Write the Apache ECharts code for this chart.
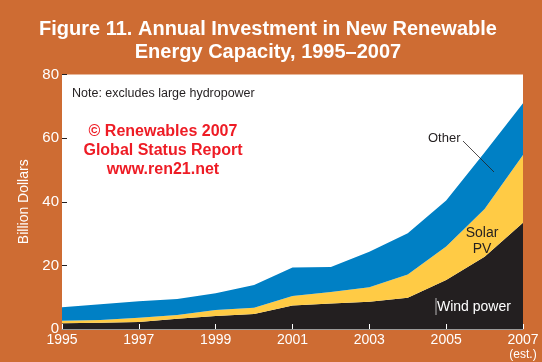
<!DOCTYPE html>
<html><head><meta charset="utf-8">
<script src="https://cdn.jsdelivr.net/npm/echarts@6/dist/echarts.min.js"></script>
<style>html,body{margin:0;padding:0;background:#CE6C33;}#c{width:542px;height:362px;}</style>
</head><body><div id="c"></div>
<script>
var years = ['1995','1996','1997','1998','1999','2000','2001','2002','2003','2004','2005','2006','2007'];
var windPower = [1.8, 2.0, 2.2, 3.2, 4.1, 4.7, 7.4, 8.0, 8.6, 9.8, 15.4, 22.7, 33.4];
var solarPV   = [0.8, 0.8, 1.3, 1.2, 1.9, 2.0, 3.0, 3.6, 4.5, 7.3, 10.5, 15.0, 21.3];
var other     = [4.2, 5.0, 5.2, 5.0, 5.2, 7.1, 8.9, 7.9, 11.2, 13.0, 14.5, 17.8, 16.3];
var yTicks = [0, 20, 40, 60, 80];

var chart = echarts.init(document.getElementById('c'), null, {renderer: 'canvas'});
var font = '"Liberation Sans", Arial, sans-serif';
function area(name, data, color) {
  return {
    name: name, type: 'line', stack: 'total', data: data,
    showSymbol: false, symbol: 'none', smooth: false,
    lineStyle: {width: 0, color: color}, itemStyle: {color: color},
    areaStyle: {color: color, opacity: 1}
  };
}
chart.setOption({
  backgroundColor: '#CE6C33',
  animation: false,
  grid: {left: 62, right: 19, top: 74.5, bottom: 33, show: true, backgroundColor: '#fff', borderWidth: 0},
  xAxis: {
    type: 'category', data: years, boundaryGap: false,
    axisLine: {show: true, lineStyle: {color: '#9a9a9a', width: 1}},
    axisTick: {show: true, inside: true, length: 5, interval: 1, lineStyle: {color: '#fff', width: 1}},
    axisLabel: {
      interval: 1, color: '#fff', fontSize: 14, margin: 4, fontFamily: font, lineHeight: 15,
      formatter: function (v) { return v === '2007' ? v + '\n{s|(est.)}' : v; },
      rich: {s: {fontSize: 12, color: '#fff', fontFamily: font, lineHeight: 14}}
    },
    z: 5
  },
  yAxis: {
    type: 'value', min: yTicks[0], max: yTicks[yTicks.length - 1], interval: 20,
    name: 'Billion Dollars', nameLocation: 'middle', nameGap: 24, nameRotate: 90,
    nameTextStyle: {color: '#fff', fontSize: 14, fontFamily: font},
    axisLine: {show: false},
    axisTick: {show: true, inside: true, length: 5, lineStyle: {color: '#231F20', width: 1}},
    axisLabel: {color: '#fff', fontSize: 15, margin: 3, fontFamily: font},
    splitLine: {show: false}
  },
  series: [
    area('Wind power', windPower, '#231F20'),
    area('Solar PV', solarPV, '#FFCB45'),
    area('Other', other, '#0080C5')
  ],
  graphic: [
    {type: 'text', x: 268, y: 18, style: {text: 'Figure 11. Annual Investment in New Renewable\nEnergy Capacity, 1995–2007', fill: '#fff', fontSize: 20, fontWeight: 'bold', lineHeight: 23, align: 'center', fontFamily: font}},
    {type: 'text', left: 72, top: 87, style: {text: 'Note: excludes large hydropower', fill: '#231F20', fontSize: 12.5, fontFamily: font}},
    {type: 'text', x: 163, y: 122, style: {text: '© Renewables 2007\nGlobal Status Report\nwww.ren21.net', fill: '#EE1C25', fontSize: 16, fontWeight: 'bold', lineHeight: 19.2, align: 'center', fontFamily: font}},
    {type: 'text', x: 428, y: 132, style: {text: 'Other', fill: '#231F20', fontSize: 13, fontFamily: font}},
    {type: 'line', shape: {x1: 463, y1: 141, x2: 494, y2: 172}, style: {stroke: '#231F20', lineWidth: 0.8}, z: 10},
    {type: 'text', x: 482, y: 225, style: {text: 'Solar\nPV', fill: '#231F20', fontSize: 14, lineHeight: 16, align: 'center', fontFamily: font}, z: 10},
    {type: 'line', shape: {x1: 436, y1: 298, x2: 436, y2: 315}, style: {stroke: '#ddd', lineWidth: 0.8}, z: 10},
    {type: 'text', x: 437, y: 300, style: {text: 'Wind power', fill: '#fff', fontSize: 14, fontFamily: font}, z: 10}
  ]
});
</script></body></html>
